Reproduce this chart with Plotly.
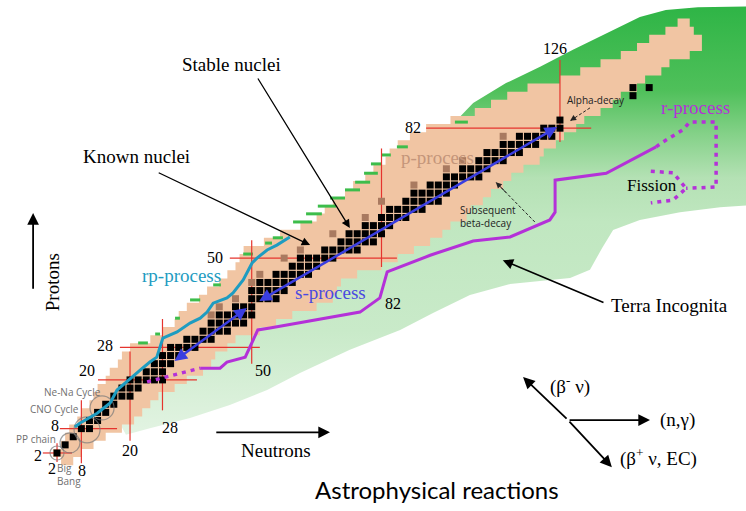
import plotly.graph_objects as go

# ---------------- frame: neutron number N (x) vs proton number Z (y) -------------
N_RANGE = [-12.06, 171.87]
Z_RANGE = [-12.29, 113.57]

# ---------------- known nuclei (one row per even Z) ----------------
known_Z = [0, 2, 4, 6, 8, 10, 12, 14, 16, 18, 20, 22, 24, 26, 28, 30, 32, 34, 36, 38,
           40, 42, 44, 46, 48, 50, 52, 54, 56, 58, 60, 62, 64, 66, 68, 70, 72, 74, 76,
           78, 80, 82, 84, 86, 88, 90, 92, 94, 96, 98, 100, 102, 104, 106, 108]
known_N_lo = [3, 1, 3, 4, 5, 7, 8, 10, 11, 12, 14, 15, 17, 18, 20, 25, 28, 31, 32, 34,
              37, 39, 42, 44, 46, 47, 48, 53, 57, 62, 66, 68, 70, 73, 75, 78, 80, 83, 84,
              86, 89, 93, 99, 105, 109, 113, 118, 126, 131, 136, 141, 145, 148, 152, 155]
known_N_hi = [6, 8, 11, 14, 18, 21, 23, 25, 27, 31, 34, 38, 40, 41, 44, 46, 52, 56, 60, 66,
              70, 71, 72, 76, 82, 86, 90, 94, 97, 99, 103, 104, 107, 109, 112, 114, 117, 121, 122,
              125, 127, 130, 132, 136, 139, 141, 145, 147, 151, 153, 158, 161, 161, 159, 158]

# ---------------- stable nuclei (even-even grid cells) ----------------
stable_Z = [2, 4, 6, 8, 10, 12, 14, 16, 18, 20, 22, 24, 26, 28, 30, 32, 34, 36, 38, 40,
            42, 44, 46, 48, 50, 52, 54, 56, 58, 60, 62, 64, 66, 68, 70, 72, 74, 76, 78, 80, 82]
stable_N_lo = [2, 4, 6, 8, 10, 12, 14, 16, 18, 20, 24, 26, 28, 30, 34, 38, 40, 42, 46, 50,
               50, 52, 56, 60, 62, 68, 72, 74, 78, 82, 84, 88, 90, 94, 98, 102, 106, 108, 112, 116, 122]
stable_N_hi = [2, 4, 6, 10, 12, 14, 16, 20, 22, 28, 28, 30, 32, 36, 40, 44, 48, 50, 50, 56,
               58, 60, 64, 66, 70, 76, 80, 82, 84, 88, 92, 96, 98, 100, 106, 108, 112, 116, 120, 124, 126]
heavy_N = [126, 144, 148, 144]
heavy_Z = [84, 92, 92, 90]
longlived_N = [112, 102, 98, 90, 82, 78, 70, 62, 58, 52, 50, 46, 42, 40]
longlived_Z = [80, 74, 72, 68, 64, 60, 56, 52, 50, 46, 44, 40, 38, 36]

# ---------------- Terra Incognita region ----------------
terra_N = [100.1, 104.6, 112.7, 121.1, 129.2, 137.4, 145.7, 152.1, 160.0, 172.5, 172.5,
           165.5, 155.6, 145.7, 139.1, 136.4, 133.4, 128.5, 113.7, 103.8, 94.7, 86.6, 74.2,
           61.9, 53.8, 44.6, 34.8, 24.9, 19.0, 16.0, 35.0, 60.0, 85.0, 98.0, 100.1]
terra_Z = [83.5, 88.2, 93.1, 97.1, 101.3, 105.4, 109.4, 111.1, 111.8, 112.0, 63.0,
           62.5, 61.3, 59.4, 56.9, 52.5, 47.1, 45.1, 43.6, 40.9, 36.5, 32.3, 27.4,
           21.7, 17.5, 13.8, 10.6, 8.1, 6.5, 12.0, 30.0, 48.0, 70.0, 82.0, 83.5]

# ---------------- drip-line marks ----------------
drip_N0 = [22.0, 26.2, 31.1, 34.8, 40.5, 47.9, 53.3, 55.2, 60.2, 63.4, 66.3, 69.3, 73.0,
           75.5, 77.7, 79.4, 81.9, 85.8, 100.1]
drip_N1 = [24.4, 27.4, 32.3, 37.3, 42.4, 50.3, 55.0, 57.7, 64.9, 67.3, 70.8, 73.0, 76.7,
           79.2, 81.1, 81.9, 84.3, 88.5, 103.3]
drip_Z = [29.1, 31.3, 35.2, 39.7, 43.4, 51.0, 53.7, 55.0, 58.9, 60.9, 62.8, 64.8, 66.8,
          68.7, 70.9, 73.2, 75.4, 77.4, 83.5]

# ---------------- magic numbers ----------------
magicN = [2, 8, 20, 28, 50, 82, 126]
magicN_Zlo = [-0.2, -0.5, 5.0, 12.5, 24.0, 47.8, 78.6]
magicN_Zhi = [4.4, 15.0, 27.0, 35.0, 54.4, 77.0, 98.8]
magicN_labN = [0.8, 8.2, 20.0, 29.9, 52.8, 84.8, 124.8]
magicN_labZ = [-1.9, -2.4, 2.5, 8.2, 22.2, 38.7, 101.7]
magicZ = [2, 8, 20, 28, 50, 82]
magicZ_Nlo = [-1.5, 2.7, 12.1, 17.5, 44.6, 93.0]
magicZ_Nhi = [5.7, 16.8, 36.5, 52.0, 85.8, 133.7]
magicZ_labN = [-2.7, 1.5, 9.4, 13.8, 41.0, 89.8]
magicZ_labZ = [1.3, 8.8, 22.2, 28.4, 50.1, 82.1]

# ---------------- process paths ----------------
rp_N = [6.4, 7.7, 11.9, 15.1, 16.8, 20.7, 22.5, 24.9, 26.6, 28.1, 31.6, 34.8, 37.3, 39.0,
        40.5, 43.9, 45.4, 47.9, 50.1, 51.3, 53.8, 56.2, 59.4]
rp_Z = [8.4, 9.4, 11.8, 14.3, 17.5, 20.7, 22.4, 24.4, 25.6, 30.3, 31.8, 34.0, 35.2, 36.7,
        38.9, 40.2, 41.4, 44.6, 48.8, 50.0, 52.0, 53.2, 55.2]
s_tail_N = [51.5, 30.6]
s_tail_Z = [39.2, 24.4]
s_head_N = [125.3, 48.8]
s_head_Z = [82.3, 37.7]
r_solid_N = [37.3, 42.2, 43.9, 48.4, 51.5, 54.5, 76.7, 81.6, 83.4, 89.8, 94.0, 104.6,
             113.7, 123.5, 124.8, 124.8, 137.4, 149.7]
r_solid_Z = [22.9, 22.9, 24.4, 25.6, 32.3, 32.8, 36.7, 40.2, 46.6, 49.0, 50.7, 54.2,
             55.2, 59.4, 61.3, 69.2, 70.9, 77.4]
r_start_N = [24.2, 37.3]
r_start_Z = [19.5, 22.9]
r_loop_N = [149.7, 151.4, 156.3, 158.0, 164.5, 164.5, 157.1]
r_loop_Z = [77.4, 78.6, 81.6, 83.5, 83.5, 67.5, 67.2]
fission_N = [148.4, 153.9, 157.1, 153.9, 148.4]
fission_Z = [71.4, 71.0, 67.2, 64.3, 63.6]

# ---------------- nucleosynthesis sites (circles) ----------------
site_N = [2.0, 5.2, 9.4, 13.1]
site_Z = [2.0, 4.5, 7.7, 13.1]
site_size = [14, 20, 26, 24]

SERIF = "Liberation Serif"
SANS = "Open Sans"

fig = go.Figure()

# Terra incognita
fig.add_trace(go.Scatter(
    x=terra_N, y=terra_Z, mode="lines", fill="toself", line=dict(width=0),
    fillgradient=dict(type="vertical", start=5, stop=113,
                      colorscale=[[0.0, "#e4f4e4"], [0.25, "#c9eac9"], [0.5, "#c0e7c0"],
                                  [0.6, "#b4e1b4"], [0.7, "#84d188"], [0.8, "#4fc05a"],
                                  [1.0, "#2db445"]]),
    hoverinfo="skip"))

# known nuclei staircase polygon
kx, ky = [], []
for z, lo in zip(known_Z, known_N_lo):
    kx += [lo, lo]
    ky += [z - 1, z + 1]
for z, hi in zip(known_Z[::-1], known_N_hi[::-1]):
    kx += [hi, hi]
    ky += [z + 1, z - 1]
kx.append(kx[0]); ky.append(ky[0])
fig.add_trace(go.Scatter(x=kx, y=ky, mode="lines", fill="toself", fillcolor="#f1c5a3",
                         line=dict(width=0), hoverinfo="skip"))

# drip-line marks
dx, dy = [], []
for a, b, z in zip(drip_N0, drip_N1, drip_Z):
    dx += [a, b, None]
    dy += [z, z, None]
fig.add_trace(go.Scatter(x=dx, y=dy, mode="lines", line=dict(color="#3dbd4b", width=3),
                         hoverinfo="skip"))

# magic-number lines
mx, my = [], []
for n, a, b in zip(magicN, magicN_Zlo, magicN_Zhi):
    mx += [n, n, None]
    my += [a, b, None]
for z, a, b in zip(magicZ, magicZ_Nlo, magicZ_Nhi):
    mx += [a, b, None]
    my += [z, z, None]
fig.add_trace(go.Scatter(x=mx, y=my, mode="lines", line=dict(color="#e5342e", width=1.2),
                         hoverinfo="skip"))

# stable nuclei
sx, sy = [], []
for z, lo, hi in zip(stable_Z, stable_N_lo, stable_N_hi):
    for n in range(lo, hi + 1, 2):
        sx.append(n)
        sy.append(z)
sx += heavy_N
sy += heavy_Z
fig.add_trace(go.Scatter(x=sx, y=sy, mode="markers",
                         marker=dict(symbol="square", size=7, color="black", line=dict(width=0)),
                         hoverinfo="skip"))
fig.add_trace(go.Scatter(x=longlived_N, y=longlived_Z, mode="markers",
                         marker=dict(symbol="square", size=7, color="#a97a60", line=dict(width=0)),
                         hoverinfo="skip"))

# sites circles
fig.add_trace(go.Scatter(x=site_N, y=site_Z, mode="markers",
                         marker=dict(symbol="circle-open", size=site_size, color="#7a7a7a",
                                     line=dict(width=1.2, color="#7a7a7a")),
                         hoverinfo="skip"))

# rp-process
fig.add_trace(go.Scatter(x=rp_N, y=rp_Z, mode="lines", line=dict(color="#1e9cc1", width=3),
                         hoverinfo="skip"))
# r-process
fig.add_trace(go.Scatter(x=r_solid_N, y=r_solid_Z, mode="lines",
                         line=dict(color="#b431d8", width=3), hoverinfo="skip"))
for xs, ys in [(r_start_N, r_start_Z), (r_loop_N, r_loop_Z), (fission_N, fission_Z)]:
    fig.add_trace(go.Scatter(x=xs, y=ys, mode="lines",
                             line=dict(color="#b431d8", width=3.5, dash="4px,5px"),
                             hoverinfo="skip"))

# dashed decay arrows
alpha_N = [133.4, 128.5]
alpha_Z = [87.0, 83.8]
beta_N = [119.8, 110.2]
beta_Z = [58.9, 68.7]
for xs, ys in [(alpha_N, alpha_Z), (beta_N, beta_Z)]:
    fig.add_trace(go.Scatter(x=xs, y=ys, mode="lines",
                             line=dict(color="#222222", width=1, dash="3px,2px"),
                             hoverinfo="skip"))

ann = []
# s-process arrows (double-headed)
for tn, tz, hn, hz in zip(s_tail_N, s_tail_Z, s_head_N, s_head_Z):
    ann.append(dict(x=hn, y=hz, ax=tn, ay=tz, xref="x", yref="y", axref="x", ayref="y",
                    text="", showarrow=True, arrowhead=2, startarrowhead=2, arrowside="end+start",
                    arrowsize=1.0, startarrowsize=1.0, arrowwidth=2.5, arrowcolor="#3a3ee0",
                    standoff=0, startstandoff=0))

# arrowheads of dashed arrows
for xs, ys in [(alpha_N, alpha_Z), (beta_N, beta_Z)]:
    ax = xs[1] + (xs[0] - xs[1]) * 0.3
    ay = ys[1] + (ys[0] - ys[1]) * 0.3
    ann.append(dict(x=xs[1], y=ys[1], ax=ax, ay=ay, xref="x", yref="y", axref="x", ayref="y",
                    text="", showarrow=True, arrowhead=2, arrowsize=1.2, arrowwidth=1,
                    arrowcolor="#222222", standoff=0))

# solid pointer arrows
pointer_tail_N = [26.7, 51.3, 137.1, -3.9, 40.9, 128.0, 128.0, 128.0]
pointer_tail_Z = [71.2, 94.6, 38.9, 42.1, 7.1, 10.1, 10.1, 10.1]
pointer_head_N = [64.4, 74.2, 111.9, -3.9, 69.3, 116.9, 138.8, 148.2]
pointer_head_Z = [53.2, 57.4, 49.5, 61.1, 7.1, 20.7, -1.5, 10.1]
pointer_width = [1.3, 1.3, 1.6, 1.8, 1.8, 1.8, 1.8, 1.8]
for tn, tz, hn, hz, w in zip(pointer_tail_N, pointer_tail_Z, pointer_head_N, pointer_head_Z,
                             pointer_width):
    ann.append(dict(x=hn, y=hz, ax=tn, ay=tz, xref="x", yref="y", axref="x", ayref="y",
                    text="", showarrow=True, arrowhead=2, arrowsize=1.3, arrowwidth=w,
                    arrowcolor="black", standoff=0))

# magic number labels
for t, n, z in zip(magicN, magicN_labN, magicN_labZ):
    ann.append(dict(x=n, y=z, text=str(t), showarrow=False, xref="x", yref="y",
                    font=dict(family=SERIF, size=16, color="black")))
for t, n, z in zip(magicZ, magicZ_labN, magicZ_labZ):
    ann.append(dict(x=n, y=z, text=str(t), showarrow=False, xref="x", yref="y",
                    font=dict(family=SERIF, size=16, color="black")))

# text labels
label_text = ["Stable nuclei", "Known nuclei", "Neutrons", "Terra Incognita", "rp-process",
              "s-process", "p-process", "r-process", "Fission",
              "(β<sup>-</sup> ν)", "(n,γ)", "(β<sup>+</sup> ν, EC)"]
label_N = [45.1, 21.5, 56.0, 153.1, 32.8, 69.5, 95.9, 159.3, 148.7, 128.5, 154.9, 150.2]
label_Z = [97.6, 75.1, 2.7, 38.4, 45.6, 41.6, 74.9, 87.0, 68.0, 18.7, 10.1, 1.0]
label_color = ["black", "black", "black", "black", "#1e9cc1", "#4a4ae0", "#c4957a", "#b431d8",
               "black", "black", "black", "black"]
label_size = [19, 19, 19, 19, 19, 19, 19, 19, 17, 19, 19, 19]
for t, n, z, c, s in zip(label_text, label_N, label_Z, label_color, label_size):
    ann.append(dict(x=n, y=z, text=t, showarrow=False, xref="x", yref="y",
                    font=dict(family=SERIF, size=s, color=c)))

ann.append(dict(x=0.8, y=44.1, text="Protons", textangle=-90, showarrow=False, xref="x",
                yref="y", font=dict(family=SERIF, size=19, color="black")))

small_text = ["Alpha-decay", "Subsequent<br>beta-decay"]
small_N = [134.9, 108.3]
small_Z = [88.9, 60.3]
for t, n, z in zip(small_text, small_N, small_Z):
    ann.append(dict(x=n, y=z, text=t, showarrow=False, xref="x", yref="y", align="left",
                    font=dict(family=SANS, size=10, color="#222222")))

site_text = ["Ne-Na Cycle", "CNO Cycle", "PP chain", "Big<br>Bang"]
site_lab_N = [5.9, 1.3, -3.3, 5.0]
site_lab_Z = [17.0, 12.9, 5.4, -3.4]
for t, n, z in zip(site_text, site_lab_N, site_lab_Z):
    ann.append(dict(x=n, y=z, text=t, showarrow=False, xref="x", yref="y", align="left",
                    font=dict(family=SANS, size=10, color="#6f6f6f")))

ann.append(dict(x=95.7, y=-7.1, text="Astrophysical reactions", showarrow=False, xref="x",
                yref="y", font=dict(family="Lato", size=24, color="black")))

fig.update_layout(
    width=746, height=511, autosize=False,
    margin=dict(l=0, r=0, t=0, b=0),
    paper_bgcolor="white", plot_bgcolor="white",
    showlegend=False,
    xaxis=dict(range=N_RANGE, visible=False, fixedrange=True),
    yaxis=dict(range=Z_RANGE, visible=False, fixedrange=True),
    annotations=ann,
)

fig.write_html("out.html")
